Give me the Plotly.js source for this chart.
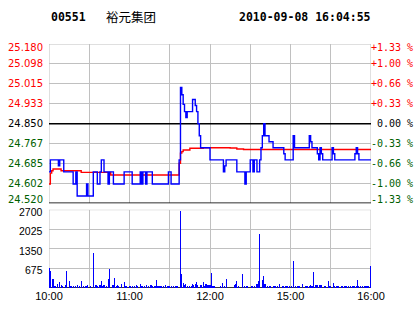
<!DOCTYPE html>
<html>
<head>
<meta charset="utf-8">
<script src="https://cdn.plot.ly/plotly-3.0.1.min.js"></script>
<style>html,body{margin:0;padding:0;background:#fff;}#chart{width:414px;height:314px;}</style>
</head>
<body>
<div id="chart"></div>
<script>
// ---- data ----
var stockCode = "00551";
var stockName = "裕元集团";
var stamp = "2010-09-08 16:04:55";
var prevClose = 24.85;

var timeTickVals = [0, 30, 60, 90, 120, 150, 180, 210, 240];
var timeTickText = ["10:00", "", "11:00", "", "12:00", "", "15:00", "", "16:00"];

var priceLevels = [25.180, 25.098, 25.015, 24.933, 24.850, 24.767, 24.685, 24.602, 24.520];
var priceLabels = ["25.180", "25.098", "25.015", "24.933", "24.850", "24.767", "24.685", "24.602", "24.520"];
var pctLabels = ["+1.33 %", "+1.00 %", "+0.66 %", "+0.33 %", "0.00 %", "-0.33 %", "-0.66 %", "-1.00 %", "-1.33 %"];
var volLevels = [675, 1350, 2025, 2700];
var volLabels = ["675", "1350", "2025", "2700"];

// price per minute (minute index 0..240)
var price = [
 24.65,
 24.70,24.70,24.70,24.70,24.70,24.70,
 24.675,
 24.70,24.70,24.70,
 24.65,24.65,24.65,24.65,24.65,24.65,24.65,
 24.60,24.60,24.65,
 24.55,24.55,24.55,24.55,24.55,24.55,24.55,
 24.60,
 24.55,24.55,24.55,24.55,
 24.65,24.65,24.65,
 24.60,24.60,
 24.65,
 24.70,24.70,
 24.65,24.65,24.65,
 24.60,
 24.65,24.65,24.65,
 24.60,24.60,24.60,24.60,24.60,24.60,24.60,24.60,
 24.65,24.65,24.65,24.65,24.65,24.65,
 24.60,24.60,24.60,24.60,24.60,24.60,
 24.65,24.60,24.65,24.65,24.60,
 24.65,24.65,24.65,24.65,
 24.60,24.60,24.60,24.60,24.60,24.60,24.60,24.60,24.60,24.60,24.60,24.60,
 24.65,24.65,
 24.60,24.60,24.60,24.60,24.60,24.60,
 24.70,25.00,24.97,24.93,24.90,24.875,
 24.90,24.90,24.90,24.90,
 24.95,24.95,24.925,24.90,24.85,24.80,
 24.75,24.75,24.75,24.75,24.75,24.75,24.75,
 24.70,24.70,24.70,24.70,24.70,24.70,24.70,24.70,24.70,24.70,
 24.65,24.675,
 24.70,24.70,24.70,24.70,24.70,24.70,24.70,24.70,
 24.65,24.65,24.65,24.65,24.65,24.65,
 24.60,
 24.65,24.65,24.65,
 24.70,24.70,24.65,24.70,24.70,
 24.65,24.65,
 24.70,24.75,24.80,24.85,
 24.80,24.80,24.80,
 24.775,24.775,24.775,
 24.75,24.75,24.75,24.75,24.75,24.75,24.75,24.75,
 24.725,
 24.70,24.70,24.70,24.70,24.70,24.70,
 24.80,
 24.75,24.75,24.75,24.75,24.75,24.75,24.75,24.75,24.75,24.75,24.75,
 24.80,24.775,
 24.75,24.75,24.75,24.75,
 24.725,24.70,24.75,24.725,
 24.70,24.70,24.70,24.70,24.70,24.70,24.70,
 24.75,24.725,
 24.70,24.70,24.70,24.70,24.70,24.70,24.70,24.70,24.70,24.70,24.70,24.70,24.70,24.70,24.70,
 24.725,24.75,24.725,
 24.70,24.70,24.70,24.70,24.70,24.70,24.70,24.70,24.70,24.70
];

// average price line (step points)
var avgT = [0, 1, 2, 3, 9, 24, 46, 97, 98, 99, 100, 105, 115, 135, 140, 145, 240];
var avgV = [24.60, 24.645, 24.655, 24.662, 24.655, 24.648, 24.637, 24.686, 24.728, 24.734, 24.741, 24.748, 24.750, 24.749, 24.745, 24.743, 24.744];

// volume per minute
var volume = [
 707,570,0,320,80,80,148,0,216,110,
 80,0,110,594,0,250,80,80,80,0,
 80,110,0,80,250,0,80,80,80,110,
 0,80,0,1210,0,110,80,0,110,250,
 80,110,0,80,320,665,0,110,110,350,
 80,110,80,0,150,0,216,80,80,0,
 80,80,80,0,80,110,80,0,150,80,
 80,80,0,110,80,0,110,80,0,80,
 286,80,80,80,80,80,0,110,80,80,
 80,80,0,80,80,80,80,0,2655,490,
 180,110,150,80,0,80,80,150,110,150,
 216,110,0,110,110,216,80,150,110,110,
 110,530,80,80,0,0,0,0,80,180,
 0,80,320,0,0,0,0,0,110,150,
 250,80,0,0,490,0,80,80,80,0,
 0,80,80,80,0,150,250,1865,0,286,
 420,150,0,80,80,80,0,80,80,80,
 80,0,150,0,80,80,80,80,80,80,
 0,80,940,0,80,80,80,80,0,150,
 0,80,80,80,80,110,80,550,0,110,
 110,0,110,110,0,80,80,0,250,80,
 80,0,180,80,80,80,80,0,80,80,
 80,80,80,80,0,80,80,80,80,80,
 286,80,80,0,80,80,80,80,80,0,
 765
];

// ---- build ----
var minutes = price.map(function(_, i){ return i; });

var L = 49, R = 371, T = 44, B = 288;
function pxX(px){ return (px - L) / (R - L); }
function pxY(py){ return (B - py) / (B - T); }

var grid = '#C0C0C0';
var red = '#FF0000', green = '#006000', black = '#000000';

var traces = [
  {x: minutes, y: volume, type: 'bar', xaxis: 'x', yaxis: 'y2', width: 0.8,
   marker: {color: '#0000FF', line: {width: 0}}, hoverinfo: 'none'},
  {x: avgT, y: avgV, type: 'scatter', mode: 'lines', xaxis: 'x', yaxis: 'y',
   line: {color: '#FF0000', width: 1.4, shape: 'hv'}, hoverinfo: 'none'},
  {x: minutes, y: price, type: 'scatter', mode: 'lines', xaxis: 'x', yaxis: 'y',
   line: {color: '#0000FF', width: 1.4, shape: 'hv'}, hoverinfo: 'none'}
];

var ann = [];
var n = priceLevels.length;
priceLevels.forEach(function(v, i){
  var c = v > prevClose + 1e-9 ? red : (Math.abs(v - prevClose) < 1e-6 ? black : green);
  var ys = i === 0 ? -3 : (i === n - 1 ? 4 : 0);
  ann.push({xref: 'paper', yref: 'y', x: pxX(45), y: v, xanchor: 'right', yanchor: 'middle',
    text: priceLabels[i], showarrow: false, yshift: ys,
    font: {family: 'DejaVu Sans', size: 10, color: c}});
  ann.push({xref: 'paper', yref: 'y', x: pxX(415), y: v, xanchor: 'right', yanchor: 'middle',
    text: pctLabels[i], showarrow: false, yshift: ys,
    font: {family: 'DejaVu Sans Mono', size: 10, color: c}});
});
volLevels.forEach(function(v, i){
  ann.push({xref: 'paper', yref: 'y2', x: pxX(45), y: v, xanchor: 'right', yanchor: 'middle',
    text: volLabels[i], showarrow: false, yshift: -2,
    font: {family: 'Liberation Sans', size: 10.5, color: black}});
});
ann.push({xref: 'paper', yref: 'paper', x: pxX(49), y: pxY(16.7), xanchor: 'left', yanchor: 'middle',
  text: stockCode, showarrow: false, font: {family: 'DejaVu Sans Mono', size: 11.5, color: black, weight: 'bold'}});
ann.push({xref: 'paper', yref: 'paper', x: pxX(104), y: pxY(16), xanchor: 'left', yanchor: 'middle',
  text: stockName, showarrow: false, font: {family: 'Noto Sans CJK SC', size: 12.5, color: black}});
ann.push({xref: 'paper', yref: 'paper', x: pxX(237), y: pxY(16.7), xanchor: 'left', yanchor: 'middle',
  text: stamp, showarrow: false, font: {family: 'DejaVu Sans Mono', size: 11.5, color: black, weight: 'bold'}});

var shapes = [
  {type: 'rect', xref: 'x', yref: 'y', x0: 0, x1: 240, y0: priceLevels[n-1], y1: priceLevels[0],
   line: {color: grid, width: 1}, layer: 'between'},
  {type: 'rect', xref: 'x', yref: 'y2', x0: 0, x1: 240, y0: 0, y1: volLevels[volLevels.length-1],
   line: {color: grid, width: 1}, layer: 'between'},
  {type: 'line', xref: 'x', yref: 'y', x0: 0, x1: 240, y0: prevClose, y1: prevClose,
   line: {color: black, width: 1.5}, layer: 'between'},
  {type: 'line', xref: 'x', yref: 'y', x0: 0, x1: 240, y0: priceLevels[n-1], y1: priceLevels[n-1],
   line: {color: black, width: 1.5}, layer: 'between'},
  {type: 'line', xref: 'x', yref: 'y2', x0: 0, x1: 240, y0: 0, y1: 0,
   line: {color: black, width: 1.5}, layer: 'between'}
];

var layout = {
  width: 414, height: 314,
  margin: {l: L, r: 414 - R, t: T, b: 314 - B, pad: 0},
  paper_bgcolor: '#FFFFFF', plot_bgcolor: '#FFFFFF',
  showlegend: false, bargap: 0,
  xaxis: {range: [0, 240], anchor: 'y2', tickvals: timeTickVals, ticktext: timeTickText,
    showgrid: true, gridcolor: grid, gridwidth: 1, zeroline: false, showline: false,
    ticks: '', ticklen: 0, tickfont: {family: 'Liberation Sans', size: 11, color: black}, fixedrange: true},
  yaxis: {domain: [(B - 203.3) / (B - T), 1], range: [priceLevels[n-1], priceLevels[0]], anchor: 'x',
    tickvals: priceLevels, showticklabels: false, showgrid: true, gridcolor: grid, gridwidth: 1,
    zeroline: false, showline: false, ticks: '', fixedrange: true},
  yaxis2: {domain: [0, (B - 209.7) / (B - T)], range: [0, volLevels[volLevels.length-1]], anchor: 'x',
    tickvals: volLevels, showticklabels: false, showgrid: true, gridcolor: grid, gridwidth: 1,
    zeroline: false, showline: false, ticks: '', fixedrange: true},
  annotations: ann,
  shapes: shapes
};

Plotly.newPlot('chart', traces, layout, {displayModeBar: false, staticPlot: true});
</script>
</body>
</html>
